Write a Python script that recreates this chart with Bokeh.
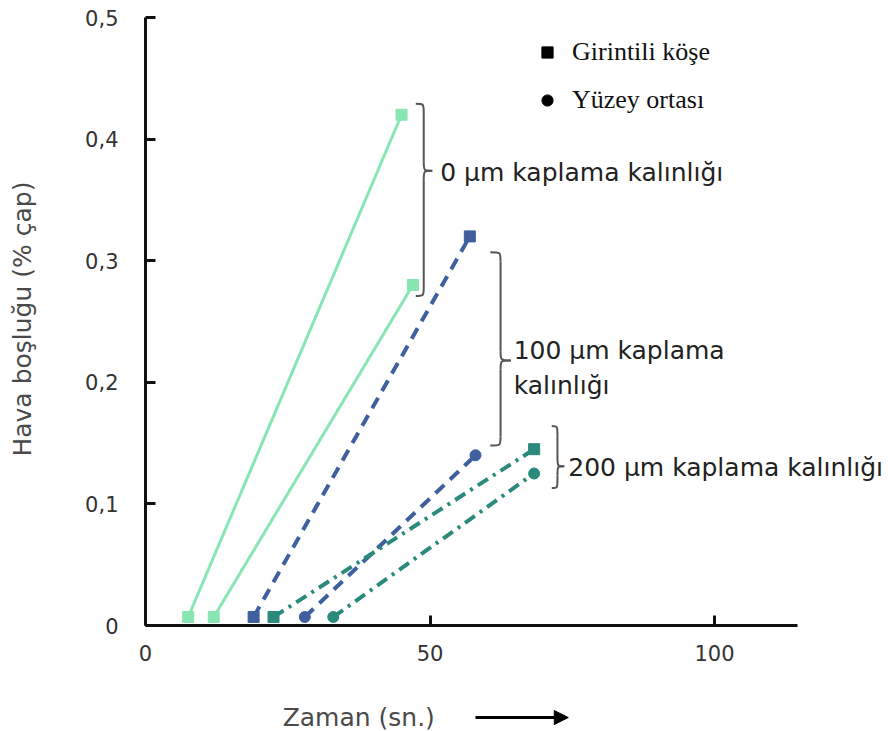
import math
from bokeh.plotting import figure
from bokeh.models import FixedTicker, Label, Arrow, NormalHead, Legend, LegendItem, ColumnDataSource
from bokeh.embed import file_html
from bokeh.resources import INLINE

# ---------------- data ----------------
series_thickness = ["0 µm", "0 µm", "100 µm", "100 µm", "200 µm", "200 µm"]
series_location = ["Girintili köşe", "Yüzey ortası", "Girintili köşe", "Yüzey ortası",
                   "Girintili köşe", "Yüzey ortası"]
time_start = [7.5, 12.0, 19.0, 28.0, 22.5, 33.0]
time_end = [45.0, 47.0, 57.0, 58.0, 68.3, 68.3]
gap_start = [0.007, 0.007, 0.007, 0.007, 0.007, 0.007]
gap_end = [0.42, 0.28, 0.32, 0.14, 0.145, 0.125]

x_ticks = [0, 50, 100]
x_tick_labels = ["0", "50", "100"]
y_ticks = [0, 0.1, 0.2, 0.3, 0.4, 0.5]
y_tick_labels = ["0", "0,1", "0,2", "0,3", "0,4", "0,5"]

legend_labels = ["Girintili köşe", "Yüzey ortası"]
group_texts = ["0 µm kaplama kalınlığı", "100 µm kaplama\nkalınlığı", "200 µm kaplama kalınlığı"]
x_axis_title = "Zaman (sn.)"
y_axis_title = "Hava boşluğu (% çap)"

# ---------------- styles / layout ----------------
colors = {"0 µm": "#88e6b2", "100 µm": "#3f5f9e", "200 µm": "#2a8a7c"}
dashes = {"0 µm": "solid", "100 µm": "12 8", "200 µm": "12 6 3 6"}
markers = {"0 µm": ["square", "square"], "100 µm": ["square", "circle"], "200 µm": ["square", "circle"]}
loc_index = {legend_labels[0]: 0, legend_labels[1]: 1}

W, H = 888, 731
X0_PX, Y0_PX = 145, 625          # pixel position of the data origin
PX_PER_X = 5.69                   # pixels per second
PX_PER_Y = 1216.0                 # pixels per unit of gap
X_AXIS_END = 114.6

x_range = (-X0_PX / PX_PER_X, (W - X0_PX) / PX_PER_X)
y_range = (-(H - Y0_PX) / PX_PER_Y, Y0_PX / PX_PER_Y)

# brace annotation geometry (x_line, x_curl, x_tip, top, bottom, tip) in data units
braces = [
    (48.9, 47.5, 50.4, 0.429, 0.271, 0.374),
    (62.4, 60.6, 64.2, 0.307, 0.148, 0.218),
    (72.4, 71.4, 73.6, 0.164, 0.113, 0.131),
]
text_pos = [(51.8, 0.3725), (64.7, 0.212), (74.3, 0.130)]

FONT = "DejaVu Sans"
p = figure(width=W, height=H, output_backend="svg", toolbar_location=None,
           x_range=x_range, y_range=y_range,
           min_border_left=0, min_border_right=0, min_border_top=0, min_border_bottom=0)
p.outline_line_color = None
p.xgrid.visible = False
p.ygrid.visible = False
p.background_fill_color = "white"
p.border_fill_color = "white"

# series
for th, loc, xs, xe, ys, ye in zip(series_thickness, series_location, time_start, time_end, gap_start, gap_end):
    src = ColumnDataSource(dict(x=[xs, xe], y=[ys, ye]))
    c = colors[th]
    p.line("x", "y", source=src, line_color=c, line_width=3 if th == "0 µm" else 4,
           line_dash=dashes[th])
    p.scatter("x", "y", source=src, marker=markers[th][loc_index[loc]], size=11,
              fill_color=c, line_color=c)

# braces and group texts
for (xl, xc, xt, top, bot, tip), (tx, ty), txt in zip(braces, text_pos, group_texts):
    r = 0.0075
    p.bezier(x0=[xc, xl, xt, xl], y0=[top, tip + r, tip, bot + r],
             x1=[xl, xt, xl, xc], y1=[top - r, tip, tip - r, bot],
             cx0=[xl, xl, xl, xl], cy0=[top, tip, tip, bot],
             cx1=[xl, xl, xl, xl], cy1=[top, tip, tip, bot],
             line_color="#555555", line_width=2)
    p.segment(x0=[xl, xl], y0=[top - r, tip - r], x1=[xl, xl], y1=[tip + r, bot + r],
              line_color="#555555", line_width=2)
    p.add_layout(Label(x=tx, y=ty, text=txt, text_align="left", text_baseline="middle",
                       text_font=FONT, text_font_size="25px", text_color="#222222"))

# legend (proxy renderers hold a single NaN point so only the key glyph is drawn)
nan = float("nan")
r_sq = p.scatter(x=[nan], y=[nan], marker="square", size=11, fill_color="black", line_color="black")
r_ci = p.scatter(x=[nan], y=[nan], marker="circle", size=11, fill_color="black", line_color="black")
legend = Legend(items=[LegendItem(label=legend_labels[0], renderers=[r_sq]),
                       LegendItem(label=legend_labels[1], renderers=[r_ci])],
                location=(533, 616), orientation="vertical",
                label_text_font="Liberation Serif", label_text_font_size="26px",
                label_text_color="#111111", label_standoff=11,
                glyph_width=28, glyph_height=28, label_height=24, spacing=18,
                padding=0, margin=0, border_line_color=None, background_fill_alpha=0)
p.add_layout(legend)

# axes drawn through the origin
for ax in (p.xaxis[0], p.yaxis[0]):
    ax.fixed_location = 0
    ax.axis_line_width = 3
    ax.axis_line_color = "#111111"
    ax.major_tick_line_width = 3
    ax.major_tick_line_color = "#111111"
    ax.major_tick_in = 10
    ax.major_tick_out = 0
    ax.minor_tick_line_color = None
    ax.major_label_text_font = FONT
    ax.major_label_text_font_size = "21px"
    ax.major_label_text_color = "#333333"

p.xaxis.bounds = (0, X_AXIS_END)
p.yaxis.bounds = (0, 0.5)
p.xaxis.major_label_standoff = 19
p.yaxis.major_label_standoff = 27
p.xaxis.ticker = FixedTicker(ticks=x_ticks)
p.xaxis.major_label_overrides = dict(zip(x_ticks, x_tick_labels))
p.yaxis.ticker = FixedTicker(ticks=y_ticks)
p.yaxis.major_label_overrides = dict(zip(y_ticks, y_tick_labels))

# axis titles and arrow
p.add_layout(Label(x=(22 - X0_PX) / PX_PER_X, y=0.252, text=y_axis_title, angle=math.pi / 2,
                   text_align="center", text_baseline="middle",
                   text_font=FONT, text_font_size="25px", text_color="#4a4a4a"))
p.add_layout(Label(x=24.1, y=-0.0757, text=x_axis_title, text_align="left", text_baseline="middle",
                   text_font=FONT, text_font_size="25px", text_color="#4a4a4a"))
p.add_layout(Arrow(x_start=58.0, y_start=-0.0757, x_end=74.3, y_end=-0.0757,
                   line_width=3, line_color="black",
                   end=NormalHead(size=14, fill_color="black", line_color="black")))

open("out.html", "w").write(file_html(p, INLINE))
